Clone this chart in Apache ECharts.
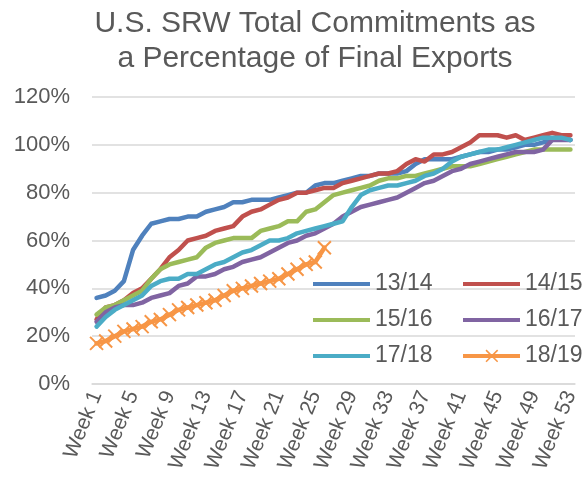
<!DOCTYPE html>
<html lang="en">
<head>
  <meta charset="UTF-8">
  <title>SRW commitments</title>
  <script src="https://cdn.jsdelivr.net/npm/echarts@6/dist/echarts.min.js"></script>
  <style>
    html, body { margin: 0; padding: 0; background: #fff; }
    #chart { width: 584px; height: 486px; }
  </style>
</head>
<body>
  <div id="chart"></div>
  <script>
    // week labels 1..53
    var weeks = [];
    for (var i = 1; i <= 53; i++) weeks.push('Week ' + i);

    // values, in percent
    var y1314 = [36, 37, 39, 43, 56, 62, 67, 68, 69, 69, 70, 70, 72, 73, 74, 76, 76, 77, 77, 77,
                 78, 79, 80, 80, 83, 84, 84, 85, 86, 87, 87, 88, 88, 88, 89, 92, 94, 94, 94, 94,
                 95, 96, 97, 97, 98, 98, 99, 100, 100, 101, 102, 103, 102];
    var y1415 = [27, 32, 33, 35, 38, 40, 44, 48, 53, 56, 60, 61, 62, 64, 65, 66, 70, 72, 73, 75,
                 77, 78, 80, 80, 81, 82, 82, 84, 85, 86, 87, 88, 88, 89, 92, 94, 93, 96, 96, 97,
                 99, 101, 104, 104, 104, 103, 104, 102, 103, 104, 105, 104, 104];
    var y1516 = [29, 32, 33, 35, 37, 39, 44, 48, 50, 51, 52, 53, 57, 59, 60, 61, 61, 61, 64, 65,
                 66, 68, 68, 72, 73, 76, 79, 80, 81, 82, 83, 85, 86, 86, 87, 87, 88, 89, 90, 91,
                 91, 91, 92, 93, 94, 95, 96, 97, 98, 98, 98, 98, 98];
    var y1617 = [26, 30, 32, 33, 33, 34, 36, 37, 38, 41, 42, 45, 45, 46, 48, 49, 51, 52, 53, 55,
                 57, 59, 60, 62, 63, 65, 67, 70, 72, 74, 75, 76, 77, 78, 80, 82, 84, 85, 87, 89,
                 90, 92, 93, 94, 95, 96, 97, 97, 97, 98, 102, 102, 102];
    var y1718 = [24, 28, 31, 33, 35, 37, 41, 43, 44, 44, 46, 46, 48, 50, 51, 53, 55, 56, 58, 60,
                 60, 61, 63, 64, 65, 66, 67, 68, 74, 79, 81, 82, 83, 83, 84, 85, 87, 88, 90, 93,
                 95, 96, 97, 98, 98, 99, 100, 101, 102, 103, 103, 103, 102];
    var y1819 = [17, 18, 20, 22, 23, 24, 26, 27, 29, 31, 32, 33, 34, 35, 37, 39, 40, 41, 42, 43,
                 44, 46, 48, 50, 51, 57];

    var names = ['13/14', '14/15', '15/16', '16/17', '17/18', '18/19'];
    var colors = ['#4F81BD', '#C0504D', '#9BBB59', '#8064A2', '#4BACC6', '#F79646'];
    var values = [y1314, y1415, y1516, y1617, y1718, y1819];

    var txt = '#595959';
    var fnt = 'Liberation Sans, Arial, sans-serif';

    // legend icons: a thick line, and the same line with an x on it
    // (the two zero-height strips only fix the icon box to 57x14)
    var lineIcon = 'path://M0,0L57,0L57,0ZM0,14L57,14L57,14ZM0,5L57,5L57,9L0,9Z';
    var crossIcon = lineIcon +
      'M23.6,0.6L35.2,12.2L34.1,13.3L22.5,1.7ZM34.1,0.6L35.2,1.7L23.6,13.3L22.5,12.2Z';

    var series = [];
    for (var s = 0; s < names.length; s++) {
      var isLast = s == names.length - 1;
      series.push({
        name: names[s],
        type: 'line',
        data: values[s],
        color: colors[s],
        showSymbol: isLast,
        showAllSymbol: true,
        symbol: isLast ? 'path://M0,0L10,10M10,0L0,10' : 'none',
        symbolSize: 13,
        itemStyle: { color: colors[s], borderColor: colors[s], borderWidth: 2 },
        lineStyle: { width: 4.5, color: colors[s], cap: 'round', join: 'round' },
        emphasis: { disabled: true },
        animation: false
      });
    }

    function legendItems(list) {
      return list.map(function (n) {
        return { name: n, icon: n == '18/19' ? crossIcon : lineIcon };
      });
    }

    var legendText = { color: txt, fontSize: 23, fontFamily: fnt, lineHeight: 24 };

    var chart = echarts.init(document.getElementById('chart'), null, { renderer: 'canvas' });
    chart.setOption({
      backgroundColor: '#fff',
      animation: false,
      title: {
        text: 'U.S. SRW Total Commitments as\na Percentage of Final Exports',
        left: 315,
        top: 6,
        padding: 0,
        textAlign: 'center',
        textStyle: { color: txt, fontSize: 30, fontWeight: 'normal', fontFamily: fnt, lineHeight: 35 }
      },
      legend: [
        {
          data: legendItems(['13/14', '15/16', '17/18']),
          orient: 'vertical', left: 313, top: 272, padding: 0,
          itemWidth: 57, itemHeight: 14, itemGap: 12,
          itemStyle: { borderWidth: 0 },
          textStyle: legendText
        },
        {
          data: legendItems(['14/15', '16/17', '18/19']),
          orient: 'vertical', left: 463, top: 272, padding: 0,
          itemWidth: 57, itemHeight: 14, itemGap: 12,
          itemStyle: { borderWidth: 0 },
          textStyle: legendText
        }
      ],
      grid: { left: 92, right: 9, top: 97, bottom: 102, containLabel: false },
      xAxis: {
        type: 'category',
        data: weeks,
        boundaryGap: true,
        axisLine: { show: true, lineStyle: { color: '#D9D9D9', width: 1.5 } },
        axisTick: { show: false },
        axisLabel: {
          interval: 3, rotate: 68, margin: 8,
          color: txt, fontSize: 21, fontFamily: fnt
        }
      },
      yAxis: {
        type: 'value',
        min: 0, max: 120, interval: 20,
        axisLine: { show: false },
        axisTick: { show: false },
        splitLine: { lineStyle: { color: '#D9D9D9', width: 1.5 } },
        axisLabel: {
          margin: 22, color: txt, fontSize: 22, fontFamily: fnt,
          formatter: function (v) { return v + '%'; }
        }
      },
      series: series
    });
  </script>
</body>
</html>
